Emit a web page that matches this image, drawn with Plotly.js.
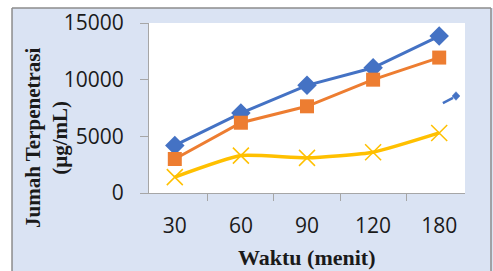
<!DOCTYPE html>
<html>
<head>
<meta charset="utf-8">
<script src="https://cdn.plot.ly/plotly-3.0.1.min.js"></script>
<style>
html,body{margin:0;padding:0;background:#ffffff;}
#chart{width:493px;height:271px;}
</style>
</head>
<body>
<div id="chart"></div>
<script>
// Data
var categories = ["30", "60", "90", "120", "180"];
var seriesBlue = [4200, 7050, 9500, 11050, 13850];
var seriesOrange = [3000, 6200, 7650, 10000, 11950];
var seriesYellow = [1400, 3300, 3100, 3600, 5300];
var yTickVals = [0, 5000, 10000, 15000];
var yTickText = ["0", "5000", "10000", "15000"];
var yTitleLines = ["Jumah Terpenetrasi", "(µg/mL)"];
var xTitle = "Waktu (menit)";

var traces = [
  {
    x: categories, y: seriesBlue, type: "scatter", mode: "lines+markers",
    line: {color: "#4472c4", width: 3},
    marker: {symbol: "diamond", size: 15, color: "#4472c4"},
    showlegend: false, hoverinfo: "skip"
  },
  {
    x: categories, y: seriesOrange, type: "scatter", mode: "lines+markers",
    line: {color: "#ed7d31", width: 3},
    marker: {symbol: "square", size: 14, color: "#ed7d31"},
    showlegend: false, hoverinfo: "skip"
  },
  {
    x: categories, y: seriesYellow, type: "scatter", mode: "lines+markers",
    line: {color: "#ffc000", width: 3.5, shape: "spline", smoothing: 0.5},
    marker: {symbol: "x-thin-open", size: 16, color: "#ffc000", line: {color: "#ffc000", width: 1.5}},
    showlegend: false, hoverinfo: "skip"
  }
];

var layout = {
  width: 493, height: 271,
  margin: {l: 149, r: 28, t: 23, b: 78, pad: 0},
  paper_bgcolor: "#dae3f3",
  plot_bgcolor: "#ffffff",
  showlegend: false,
  xaxis: {
    type: "category",
    tickson: "boundaries",
    ticks: "outside", ticklen: 7, tickcolor: "#a6a6a6", tickwidth: 1,
    showline: true, linecolor: "#a6a6a6", linewidth: 1,
    showgrid: false, zeroline: false,
    tickfont: {family: "Open Sans, Liberation Sans, sans-serif", size: 21, color: "#1a1a1a"},
    ticklabelstandoff: 14,
    fixedrange: true
  },
  yaxis: {
    range: [0, 15000],
    tickvals: yTickVals, ticktext: yTickText,
    ticks: "outside", ticklen: 8, tickcolor: "#a6a6a6", tickwidth: 1,
    showline: true, linecolor: "#a6a6a6", linewidth: 1,
    showgrid: false, zeroline: false,
    tickfont: {family: "Open Sans, Liberation Sans, sans-serif", size: 21, color: "#1a1a1a"},
    ticklabelstandoff: 12,
    fixedrange: true
  },
  shapes: [
    {type: "rect", xref: "paper", yref: "paper", x0: -0.5, x1: 1.2, y0: 1.088, y1: 1.3,
     fillcolor: "#ffffff", line: {width: 0}, layer: "below"},
    {type: "rect", xref: "paper", yref: "paper", x0: -0.5, x1: -0.4335, y0: -0.6, y1: 1.3,
     fillcolor: "#ffffff", line: {width: 0}, layer: "below"},
    {type: "line", xref: "paper", yref: "paper", x0: -0.4335, x1: 1.0823, y0: 1.088, y1: 1.088,
     line: {color: "#8c8c8c", width: 1.5}},
    {type: "line", xref: "paper", yref: "paper", x0: -0.4335, x1: -0.4335, y0: 1.088, y1: -0.6,
     line: {color: "#8c8c8c", width: 1.5}},
    {type: "line", xref: "paper", yref: "paper", x0: 1.0823, x1: 1.0823, y0: 1.088, y1: -0.6,
     line: {color: "#8c8c8c", width: 1.5}},
    {type: "line", xref: "paper", yref: "paper", x0: 0.930, x1: 0.962, y0: 0.529, y1: 0.559,
     line: {color: "#4472c4", width: 2.5}},
    {type: "path", xref: "paper", yref: "paper",
     path: "M 0.9715 0.596 L 0.984 0.5706 L 0.9715 0.545 L 0.959 0.5706 Z",
     fillcolor: "#4472c4", line: {color: "#4472c4", width: 0.5}}
  ],
  annotations: [
    {text: "<b>" + yTitleLines[0] + "</b><br><b>" + yTitleLines[1] + "</b>",
     xref: "paper", yref: "paper", x: -0.326, y: 0.3235,
     xanchor: "center", yanchor: "middle", textangle: -90, showarrow: false,
     font: {family: "Liberation Serif, Times New Roman, serif", size: 21, color: "#1a1a1a"}},
    {text: "<b>" + xTitle + "</b>", xref: "paper", yref: "paper", x: 0.5, y: -0.382,
     xanchor: "center", yanchor: "middle", showarrow: false,
     font: {family: "Liberation Serif, Times New Roman, serif", size: 22, color: "#1a1a1a"}}
  ]
};

Plotly.newPlot("chart", traces, layout, {staticPlot: true, displayModeBar: false});
</script>
</body>
</html>
